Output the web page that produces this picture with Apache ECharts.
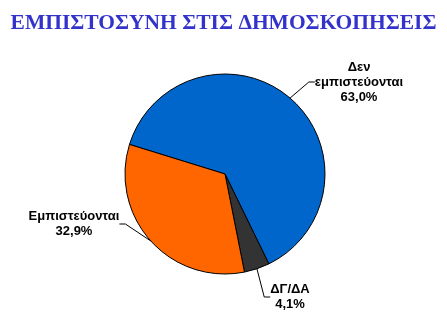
<!DOCTYPE html>
<html><head><meta charset="utf-8">
<script src="https://cdn.jsdelivr.net/npm/echarts@6/dist/echarts.min.js"></script>
<style>html,body{margin:0;padding:0;background:#fff}#c{width:447px;height:319px}</style>
</head><body><div id="c"></div>
<script>
const titleText = 'ΕΜΠΙΣΤΟΣΥΝΗ ΣΤΙΣ ΔΗΜΟΣΚΟΠΗΣΕΙΣ';
const categories = ['Δεν\nεμπιστεύονται', 'ΔΓ/ΔΑ', 'Εμπιστεύονται'];
const values = [63.0, 4.1, 32.9];
const colors = ['#0066CC', '#333333', '#FF6600'];
const labelCenters = [[359, 82], [290, 297], [74, 224]];

const chart = echarts.init(document.getElementById('c'), null, {renderer: 'canvas'});
chart.setOption({
  animation: false,
  backgroundColor: '#fff',
  title: {
    text: titleText, left: 'center', top: 7,
    textStyle: {
      fontFamily: 'Liberation Serif', fontWeight: 'bold', fontSize: 21.5, color: '#3333CC',
      textShadowColor: '#999999', textShadowOffsetX: 2, textShadowOffsetY: 2, textShadowBlur: 0
    }
  },
  series: [{
    type: 'pie',
    center: [225, 174],
    radius: 100,
    startAngle: 162.8,
    clockwise: true,
    data: categories.map((c, i) => ({name: c, value: values[i], itemStyle: {color: colors[i]}})),
    itemStyle: {borderColor: '#000', borderWidth: 1},
    label: {
      show: true, position: 'outside',
      formatter: p => p.name + '\n' + p.value.toFixed(1).replace('.', ',') + '%',
      fontFamily: 'Liberation Sans', fontWeight: 'bold', fontSize: 13, color: '#000',
      lineHeight: 15
    },
    labelLine: {show: true, length: 15, length2: 6, lineStyle: {color: '#000', width: 1}},
    labelLayout: p => ({
      x: labelCenters[p.dataIndex][0], y: labelCenters[p.dataIndex][1],
      align: 'center', verticalAlign: 'middle'
    }),
    emphasis: {disabled: true}
  }]
});
</script></body></html>
